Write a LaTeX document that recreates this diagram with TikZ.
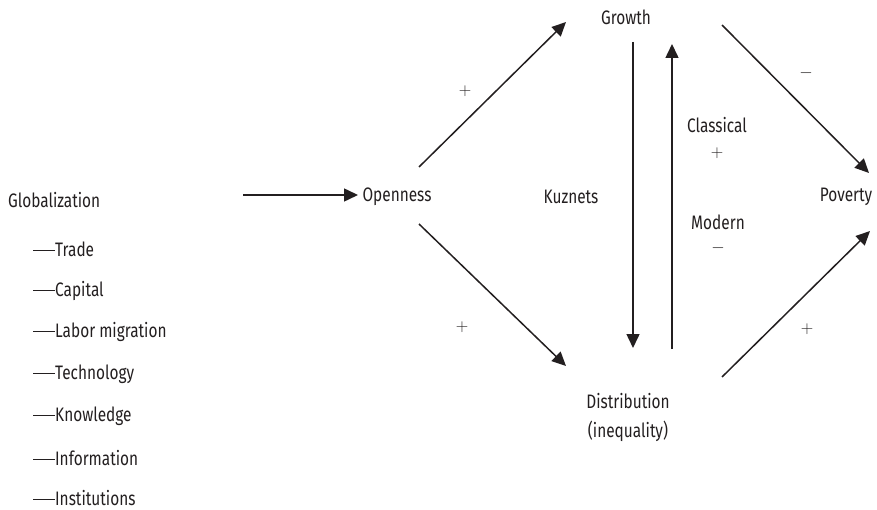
\documentclass[tikz,border=0pt]{standalone}
\usepackage{fontspec}
\setmainfont[FakeStretch=0.79]{Fira Sans}
\usetikzlibrary{arrows.meta,calc}
\definecolor{ink}{HTML}{231F20}
\begin{document}
\begin{tikzpicture}[x=1pt,y=-1pt,
  lbl/.style={inner sep=0pt, font=\fontsize{19.5}{29}\selectfont, text=ink},
  sign/.style={inner sep=0pt, font=\fontsize{16}{18}\selectfont, text=ink},
  arr/.style={line width=1.5pt, draw=ink, -{Triangle[length=14pt,width=13pt]}},
]
\newcommand{\emd}{\rule[0.27em]{22pt}{1.1pt}}
\newcommand{\plussign}{$+$}
\newcommand{\minussign}{{\fontsize{16}{18}\selectfont$-$}}
\useasboundingbox (0,0) rectangle (877,510);
% main nodes
\node[lbl, anchor=west] (glob) at (8,200) {Globalization};
\node[lbl] (open) at (397,197) {Openness};
\node[lbl] (growth) at (626,17) {Growth};
\node[lbl] (pov) at (846,197) {Poverty};
\node[lbl, align=center] (dist) at (628,417) {Distribution\\(inequality)};
% list
\node[lbl, anchor=west] (l1) at (33,249) {\emd Trade};
\node[lbl, anchor=west] (l2) at (33,291) {\emd Capital};
\node[lbl, anchor=west] (l3) at (33,332) {\emd Labor migration};
\node[lbl, anchor=west] (l4) at (33,374) {\emd Technology};
\node[lbl, anchor=west] (l5) at (33,416) {\emd Knowledge};
\node[lbl, anchor=west] (l6) at (33,458) {\emd Information};
\node[lbl, anchor=west] (l7) at (33,498) {\emd Institutions};
% labels
\node[lbl] (kuz) at (571,197) {Kuznets};
\node[lbl] (clas) at (717,125) {Classical};
\node[sign] (clasp) at (717,153) {\plussign};
\node[lbl] (mod) at (718,222) {Modern};
\node[sign] (modm) at (718,248) {\minussign};
\node[sign] (s1) at (465,91) {\plussign};
\node[sign] (s2) at (462,327) {\plussign};
\node[sign] (s3) at (806,73) {\minussign};
\node[sign] (s4) at (807,329) {\plussign};
% connectors
\draw[arr] ($(glob.west)+(235,-5)$) -- ($(open)+(-39,-2)$);
\draw[arr] ($(open)+(22,-30)$) -- ($(growth)+(-60,5)$);
\draw[arr] ($(open)+(22,27)$) -- ($(dist)+(-62,-51)$);
\draw[arr] ($(growth)+(96,8)$) -- ($(pov)+(23,-24)$);
\draw[arr] ($(dist)+(94,-40)$) -- ($(pov)+(24,34)$);
\draw[arr] ($(growth)+(7,25)$) -- ($(dist)+(5,-69)$);
\draw[arr] ($(dist)+(44,-68)$) -- ($(growth)+(46,27)$);
\end{tikzpicture}
\end{document}
